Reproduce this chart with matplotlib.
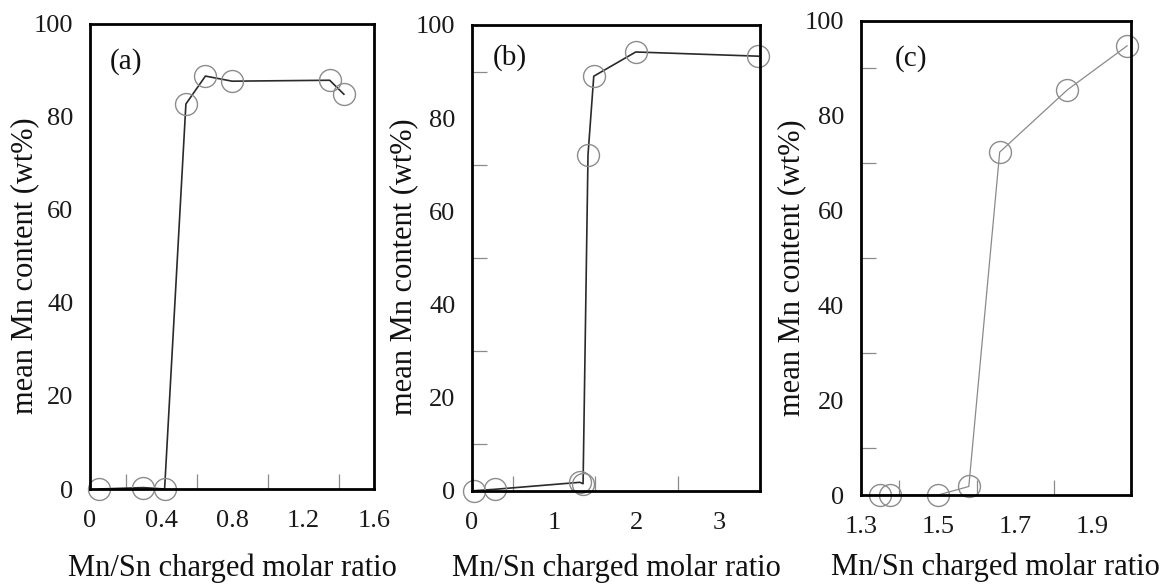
import matplotlib
matplotlib.use("Agg")
import matplotlib.pyplot as plt

plt.rcParams['font.family'] = ['Liberation Serif', 'DejaVu Serif']

# ---- data ----
xa = [0.05, 0.30, 0.42, 0.54, 0.65, 0.80, 1.35, 1.43]
ya = [0.0, 0.3, 0.0, 82.8, 88.8, 87.7, 87.9, 84.9]

xb = [0.03, 0.28, 1.31, 1.35, 1.41, 1.48, 1.99, 3.48]
yb = [0.0, 0.3, 1.8, 1.5, 72.1, 89.0, 94.2, 93.3]

xc = [1.35, 1.375, 1.50, 1.58, 1.66, 1.835, 1.99]
yc = [0.0, 0.0, 0.0, 1.8, 72.3, 85.4, 94.7]

panel_labels = ['(a)', '(b)', '(c)']
xlabel = 'Mn/Sn charged molar ratio'
ylabel = 'mean Mn content (wt%)'

xticks_a = [0, 0.4, 0.8, 1.2, 1.6]
xtick_labels_a = ['0', '0.4', '0.8', '1.2', '1.6']
xticks_b = [0, 1, 2, 3]
xtick_labels_b = ['0', '1', '2', '3']
xticks_c = [1.3, 1.5, 1.7, 1.9]
xtick_labels_c = ['1.3', '1.5', '1.7', '1.9']
yticks = [0, 20, 40, 60, 80, 100]
ytick_labels = ['0', '20', '40', '60', '80', '100']

fig = plt.figure(figsize=(11.62, 5.85), dpi=100)

specs = [
    dict(rect=[0.0775, 0.1641, 0.2444, 0.7949], x=xa, y=ya, xlim=(0, 1.6),
         xt=xticks_a, xtl=xtick_labels_a,
         xminor=[0.2, 0.4, 0.6, 0.8, 1.0, 1.2, 1.4], yminor=[20, 40, 60, 80],
         lab=(0.07, 0.92), lc='#2a2a2a', lw=1.2, xlab_y=-0.138, ylab_x=-0.18),
    dict(rect=[0.4062, 0.1612, 0.2478, 0.7961], x=xb, y=yb, xlim=(0, 3.5),
         xt=xticks_b, xtl=xtick_labels_b,
         xminor=[0.5, 1.0, 1.5, 2.0, 2.5, 3.0], yminor=[10, 20, 30, 40, 50, 60, 70, 80, 90],
         lab=(0.073, 0.931), lc='#2a2a2a', lw=1.2, xlab_y=-0.134, ylab_x=-0.188),
    dict(rect=[0.7407, 0.1538, 0.2326, 0.8108], x=xc, y=yc, xlim=(1.3, 2.0),
         xt=xticks_c, xtl=xtick_labels_c,
         xminor=[1.4, 1.5, 1.6, 1.7, 1.8, 1.9], yminor=[10, 20, 30, 40, 50, 60, 70, 80, 90],
         lab=(0.127, 0.921), lc='#8a8a8a', lw=0.9, xlab_y=-0.122, ylab_x=-0.2),
]

for i, s in enumerate(specs):
    ax = fig.add_axes(s['rect'])
    ax.plot(s['x'], s['y'], color=s['lc'], lw=s['lw'], zorder=2, clip_on=False)
    ax.plot(s['x'], s['y'], ls='none', marker='o', ms=15.8, mfc='none',
            mec='#8c8c8c', mew=1.0, zorder=3, clip_on=False)
    ax.set_xlim(*s['xlim'])
    ax.set_ylim(0, 100)
    ax.set_xticks(s['xt'])
    ax.set_xticklabels(s['xtl'])
    ax.set_yticks(yticks)
    ax.set_yticklabels(ytick_labels)
    ax.set_xticks(s['xminor'], minor=True)
    ax.set_yticks(s['yminor'], minor=True)
    ax.tick_params(which='major', length=0, labelsize=19, colors='#1a1a1a')
    ax.tick_params(axis='x', which='major', pad=15)
    ax.tick_params(axis='y', which='major', pad=12)
    ax.tick_params(which='minor', direction='in', length=11, width=0.9,
                   color='#8a8a8a', top=False, right=False)
    for sp in ax.spines.values():
        sp.set_linewidth(2.0)
        sp.set_color('black')
        sp.set_zorder(4)
    ax.set_xlabel(xlabel, fontsize=22, color='#111111')
    ax.set_ylabel(ylabel, fontsize=22, color='#111111')
    ax.xaxis.set_label_coords(0.5, s['xlab_y'])
    ax.yaxis.set_label_coords(s['ylab_x'], 0.48)
    ax.text(s['lab'][0], s['lab'][1], panel_labels[i], transform=ax.transAxes,
            fontsize=21, ha='left', va='center', color='#111111')

fig.savefig('out.png', dpi=100)
